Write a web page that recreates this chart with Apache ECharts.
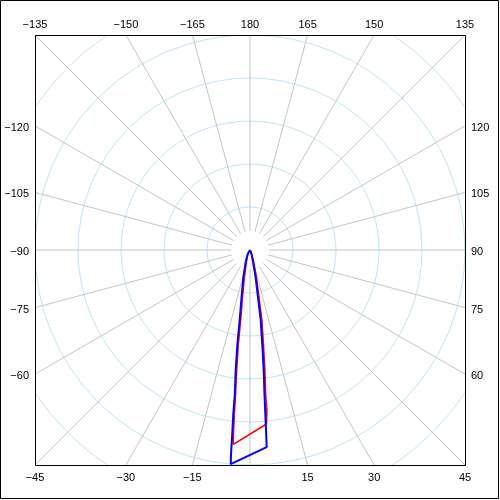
<!DOCTYPE html>
<html>
<head>
<meta charset="utf-8">
<script src="https://cdn.jsdelivr.net/npm/echarts@6/dist/echarts.min.js"></script>
<style>
  html, body { margin: 0; padding: 0; background: #fff; }
  #chart { width: 500px; height: 500px; }
</style>
</head>
<body>
<div id="chart"></div>
<script>
// angle ticks (deg), 0 points down, 90 to the right
const angleTicks = [-180, -165, -150, -135, -120, -105, -90, -75, -60, -45, -30, -15,
  0, 15, 30, 45, 60, 75, 90, 105, 120, 135, 150, 165]
const angleLabels = ['180', '\u2212165', '\u2212150', '\u2212135', '\u2212120', '\u2212105', '\u221290',
  '\u221275', '\u221260', '\u221245', '\u221230', '\u221215', '', '15', '30', '45', '60', '75', '90',
  '105', '120', '135', '150', '165']

// radial rings every 10 units, square edge sits on ring 50
const ringStep = 10
const edgeValue = 50
const radiusMax = 71

// blue trace: radius, angle
const blueR = [0, 1.06, 2.9, 6.7, 10.65, 16.45, 22.3, 28.1, 33.9, 38.6, 43.2, 47.9, 50.0,
  46.0, 40.4, 33.9, 28.1, 22.3, 16.5, 10.6, 6.65, 2.8, 1.0, 0]
const blueA = [0, -28.8, -20.2, -13.5, -10.4, -8.4, -7.6, -6.8, -6.0, -5.8, -5.5, -5.3, -5.15,
  4.84, 5.19, 5.71, 6.51, 7.38, 8.69, 9.71, 11.5, 14.4, 20.6, 0]

// red trace: radius, angle
const redR = [0, 1.06, 2.84, 6.64, 10.6, 16.42, 22.26, 28.07, 33.88, 38.53, 43.19, 45.35,
  40.65, 37.42, 33.92, 28.12, 22.31, 16.51, 10.65, 6.67, 2.85, 1.0, 0]
const redA = [0, -28.8, -16.65, -11.5, -9.2, -7.57, -7.02, -6.32, -5.71, -5.44, -5.1, -4.91,
  5.42, 6.03, 6.18, 7.08, 8.09, 9.65, 10.94, 13.07, 17.55, 20.6, 0]

const W = 500
const cx = 250
const cy = 250
const half = 215
const pxPerUnit = half / edgeValue

const chart = echarts.init(document.getElementById('chart'), null, { renderer: 'canvas' })

// ring colours, the last rings fall outside the square
const ringColors = []
for (let v = 0; v <= radiusMax; v += ringStep) ringColors.push(v < 70 ? '#c6e3ea' : 'rgba(0,0,0,0)')
ringColors.push('rgba(0,0,0,0)')

// labels sit where each spoke meets the square frame
const labelEls = []
angleTicks.forEach((a, i) => {
  const txt = angleLabels[i]
  if (!txt) return
  const s = Math.sin(a * Math.PI / 180)
  const c = Math.cos(a * Math.PI / 180)
  const t = half / Math.max(Math.abs(s), Math.abs(c))
  const px = cx + t * s
  const py = cy + t * c
  let x, y, align
  if (Math.abs(c) >= Math.abs(s) - 1e-6) {
    x = px
    y = c < 0 ? py - 10 : py + 13
    align = 'center'
  } else if (s < 0) {
    x = px - 6; y = py + 2; align = 'right'
  } else {
    x = px + 6; y = py + 2; align = 'left'
  }
  labelEls.push({
    type: 'text',
    z: 20,
    x: x,
    y: y,
    style: {
      text: txt,
      fill: '#000',
      font: '11px "Liberation Sans", Arial, sans-serif',
      align: align,
      verticalAlign: 'middle'
    }
  })
})

const option = {
  animation: false,
  backgroundColor: '#fff',
  polar: {
    center: [cx, cy],
    radius: [0, radiusMax * pxPerUnit]
  },
  angleAxis: {
    type: 'value',
    min: -180,
    max: 180,
    interval: 15,
    startAngle: 90,
    clockwise: false,
    z: 0,
    axisLine: { show: false },
    axisTick: { show: false },
    axisLabel: { show: false },
    splitLine: { show: true, lineStyle: { color: '#c4c4c4', width: 1 } }
  },
  radiusAxis: {
    type: 'value',
    min: 0,
    max: radiusMax,
    interval: ringStep,
    z: 0,
    axisLine: { show: false },
    axisTick: { show: false },
    axisLabel: { show: false },
    splitLine: { show: true, lineStyle: { color: ringColors, width: 1 } }
  },
  series: [
    {
      name: 'red',
      type: 'line',
      coordinateSystem: 'polar',
      z: 5,
      showSymbol: false,
      symbol: 'none',
      lineStyle: { color: '#ff0000', width: 1.5 },
      data: redR.map((r, i) => [r, redA[i]])
    },
    {
      name: 'blue',
      type: 'line',
      coordinateSystem: 'polar',
      z: 6,
      showSymbol: false,
      symbol: 'none',
      lineStyle: { color: '#0000ff', width: 2 },
      data: blueR.map((r, i) => [r, blueA[i]])
    }
  ],
  graphic: {
    elements: [
      // hole in the middle where spokes stop
      { type: 'circle', z: 3, shape: { cx: cx, cy: cy, r: 19 }, style: { fill: '#fff' } },
      // white margins outside the square frame
      { type: 'rect', z: 10, shape: { x: 0, y: 0, width: W, height: cy - half }, style: { fill: '#fff' } },
      { type: 'rect', z: 10, shape: { x: 0, y: cy + half + 1, width: W, height: W }, style: { fill: '#fff' } },
      { type: 'rect', z: 10, shape: { x: 0, y: 0, width: cx - half, height: W }, style: { fill: '#fff' } },
      { type: 'rect', z: 10, shape: { x: cx + half + 1, y: 0, width: W, height: W }, style: { fill: '#fff' } },
      // frames
      { type: 'rect', z: 11, shape: { x: cx - half + 0.5, y: cy - half + 0.5, width: 2 * half, height: 2 * half },
        style: { fill: 'none', stroke: '#000', lineWidth: 1 } },
      { type: 'rect', z: 11, shape: { x: 0.5, y: 0.5, width: W - 2, height: W - 2 },
        style: { fill: 'none', stroke: '#000', lineWidth: 1 } }
    ].concat(labelEls)
  }
}

chart.setOption(option)
</script>
</body>
</html>
